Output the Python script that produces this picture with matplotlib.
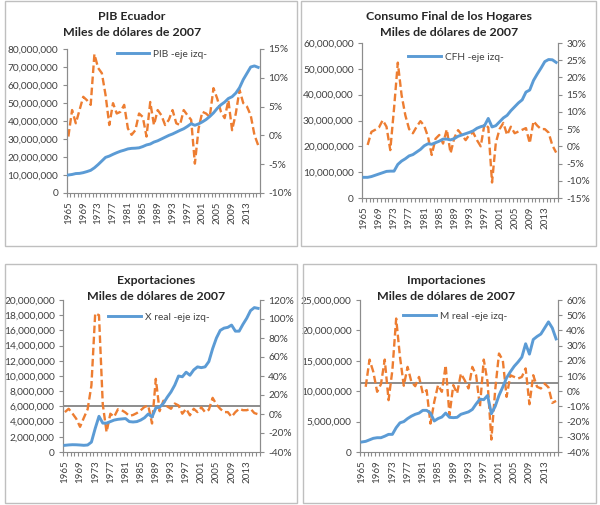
import matplotlib
matplotlib.use('Agg')
import matplotlib.pyplot as plt
from matplotlib.ticker import FuncFormatter, FixedLocator, MultipleLocator
from matplotlib.patches import Rectangle
import numpy as np

plt.rcParams['font.family'] = ['Lato', 'DejaVu Sans']

years = list(range(1965, 2017))

# Levels in millions of (thousand) dollars of 2007
pib_level = [10.0, 10.3, 10.8, 10.9, 11.3, 11.9, 12.6, 14.0, 15.8, 17.8,
             19.8, 20.5, 21.5, 22.4, 23.2, 23.8, 24.5, 24.8, 24.9, 25.1,
             25.8, 26.7, 27.2, 28.3, 29.0, 30.0, 31.0, 32.0, 32.8, 33.8,
             34.8, 35.7, 37.0, 38.5, 37.6, 38.4, 39.5, 40.8, 42.5, 44.5,
             47.0, 49.0, 50.5, 52.5, 53.5, 55.5, 58.5, 63.0, 66.5, 70.0,
             70.6, 69.8]
pib_growth = [-0.2, 4.4, 2.1, 4.4, 6.7, 6.1, 5.3, 14.1, 11.7, 10.8,
              7.0, 1.8, 5.6, 3.8, 4.1, 5.3, 1.2, 0.1, 0.9, 3.8,
              3.2, -0.2, 5.8, 1.8, 4.4, 3.5, 1.8, 2.7, 4.4, 2.1,
              1.8, 4.4, 3.5, 2.7, -4.9, 1.2, 4.1, 3.8, 3.2, 8.2,
              6.4, 4.1, 3.0, 6.1, 0.9, 3.8, 7.9, 5.6, 5.0, 3.5,
              0.1, -1.7]

cfh_level = [8.0, 8.0, 8.3, 8.8, 9.3, 9.8, 10.3, 10.4, 10.4, 13.0,
             14.3, 15.2, 16.3, 16.8, 17.8, 18.8, 20.2, 21.0, 20.8, 21.4,
             22.0, 22.8, 22.8, 22.5, 23.0, 23.9, 24.4, 24.9, 25.4, 26.0,
             27.0, 27.6, 28.0, 30.8, 27.5, 28.0, 29.5, 31.0, 32.0, 33.8,
             35.3, 36.8, 38.0, 41.0, 41.8, 45.5, 48.0, 50.3, 52.8, 53.6,
             53.5, 52.5]
cfh_growth = [np.nan, 0.4, 4.2, 4.8, 5.5, 7.6, 5.7, -1.1, 11.0, 24.3,
              14.9, 9.0, 5.0, 3.8, 5.7, 7.3, 6.0, 2.8, -2.5, 2.2,
              3.3, 0.8, 4.9, -2.0, 2.5, 4.7, 3.3, 1.8, 3.4, 4.0,
              1.8, 0.0, 6.5, 5.5, -10.5, 1.0, 5.0, 6.8, 3.3, 5.7,
              3.8, 4.3, 4.8, 5.3, 0.9, 7.3, 6.0, 5.0, 5.0, 4.0,
              0.3, -1.8]

x_level = [0.88, 0.93, 0.96, 0.95, 0.92, 0.88, 0.92, 1.3, 3.1, 4.7,
           3.8, 3.8, 4.0, 4.2, 4.3, 4.35, 4.4, 4.0, 3.95, 4.0,
           4.2, 4.5, 5.0, 4.6, 5.8, 5.9, 6.4, 7.2, 7.9, 8.8,
           10.0, 9.9, 10.5, 10.1, 10.8, 11.2, 11.1, 11.2, 11.9, 13.6,
           15.0, 16.0, 16.3, 16.4, 16.7, 15.9, 15.9, 16.8, 17.6, 18.6,
           19.0, 18.9]
x_growth = [2.0, 5.5, 0.5, -5.0, -13.5, -4.0, 5.0, 30.0, 106.0, 104.0,
            10.0, -19.0, 0.3, -3.0, 5.0, 4.0, 1.5, -2.0, -1.0, 1.0,
            3.9, 7.4, 9.0, -10.0, 37.0, 3.0, 14.0, 8.0, 5.5, 11.0,
            9.0, 0.3, 5.5, -1.4, 5.5, 2.0, 7.0, 2.0, 4.5, 17.0,
            10.0, 5.5, 2.0, 2.0, -3.0, 2.0, 5.5, 4.0, 4.0, 5.5,
            1.0, -0.3]
x_ref = 8.0

m_level = [1.65, 1.75, 2.0, 2.25, 2.35, 2.35, 2.6, 2.9, 2.9, 4.0,
           4.8, 5.0, 5.5, 5.9, 6.2, 6.4, 6.85, 6.85, 6.4, 5.1,
           5.5, 5.75, 6.4, 5.7, 5.65, 5.7, 6.2, 6.4, 6.6, 7.0,
           7.9, 8.7, 8.6, 9.3, 6.3, 7.5, 9.3, 10.7, 12.2, 13.2,
           14.1, 14.8, 15.6, 17.8, 16.1, 18.5, 19.0, 19.4, 20.4, 21.4,
           20.4, 18.6]
m_growth = [np.nan, 2.9, 20.8, 12.7, -0.4, 4.6, 20.8, -5.9, 13.8, 47.8,
            22.6, 3.6, 16.0, 6.1, 3.3, 9.4, -1.5, 0.7, -21.3, -7.0,
            4.0, -0.4, 17.1, -15.8, 4.0, -1.5, 11.6, 7.2, 1.8, 16.0,
            10.5, -10.3, 20.8, 6.1, -31.8, 0.7, 24.8, 20.4, -3.7, 10.5,
            9.4, 8.3, 9.4, 15.0, -8.6, 10.5, 2.9, 1.8, 5.0, 2.5,
            -7.7, -6.4]
m_ref = 5.5

titles = ["PIB Ecuador", "Consumo Final de los Hogares", "Exportaciones", "Importaciones"]
subtitle = "Miles de dólares de 2007"
legend_labels = ["PIB -eje izq-", "CFH -eje izq-", "X real -eje izq-", "M real -eje izq-"]

BLUE = '#5B9BD5'
ORANGE = '#ED7D31'
REF = '#8C8C8C'
AXC = '#8C8C8C'
TXT = '#404040'

W, H = 600, 505
fig = plt.figure(figsize=(W / 100, H / 100), dpi=100)


def fx(x):
    return x / W


def fy(y):
    return 1 - y / H


def border(x0, y0, x1, y1):
    fig.patches.append(Rectangle((fx(x0), fy(y1)), fx(x1) - fx(x0), fy(y0) - fy(y1),
                                 transform=fig.transFigure, fill=False,
                                 edgecolor='#BFBFBF', linewidth=1.0))


def panel(box, level, growth, lmax, lstep, rmin, rmax, rstep, title, leg,
          tcen, lcen, ref=None):
    x0, y0, x1, y1 = box
    ax = fig.add_axes([fx(x0), fy(y1), fx(x1) - fx(x0), fy(y0) - fy(y1)])
    ax2 = ax.twinx()
    idx = np.arange(len(years))
    lvl = np.array(level) * 1e6
    line, = ax.plot(idx, lvl, color=BLUE, lw=2.1, zorder=3, label=leg)
    if ref is not None:
        ax2.axhline(ref, color=REF, lw=1.4, zorder=1)
    ax2.plot(idx, growth, color=ORANGE, lw=1.7, linestyle=(0, (3.2, 1.5)), zorder=2)
    ax.set_zorder(ax2.get_zorder() + 1)
    ax.patch.set_visible(False)

    ax.set_xlim(-0.5, len(years) - 0.5)
    ax.set_ylim(0, lmax)
    ax.yaxis.set_major_locator(MultipleLocator(lstep))
    ax.yaxis.set_major_formatter(FuncFormatter(lambda v, p: f"{v:,.0f}"))
    ax2.set_ylim(rmin, rmax)
    ax2.yaxis.set_major_locator(MultipleLocator(rstep))
    ax2.yaxis.set_major_formatter(FuncFormatter(lambda v, p: f"{v:.0f}%"))

    lab_idx = list(range(0, len(years), 4))
    ax.xaxis.set_major_locator(FixedLocator(lab_idx))
    ax.set_xticklabels([str(years[i]) for i in lab_idx], rotation=90)
    ax.xaxis.set_minor_locator(FixedLocator(np.arange(-0.5, len(years), 1.0)))
    ax.tick_params(axis='x', which='major', length=0, pad=6, labelsize=7, colors=TXT)
    ax.tick_params(axis='x', which='minor', length=3, color=AXC, width=0.8)
    ax.tick_params(axis='y', length=3, color=AXC, width=0.8, labelsize=7.3,
                   labelcolor=TXT, pad=3)
    ax2.tick_params(axis='y', length=3, color=AXC, width=0.8, labelsize=7.3,
                    labelcolor=TXT, pad=3)
    for a in (ax, ax2):
        a.spines['top'].set_visible(False)
        for s in ('left', 'right', 'bottom'):
            a.spines[s].set_color(AXC)
            a.spines[s].set_linewidth(0.8)
    ax2.spines['bottom'].set_visible(False)

    fig.text(fx(tcen[0]), fy(tcen[1]), title, ha='center', va='center',
             fontsize=8.9, fontweight='bold', color='#262626')
    fig.text(fx(tcen[0]), fy(tcen[1] + 16), subtitle, ha='center', va='center',
             fontsize=8.9, fontweight='bold', color='#262626')
    ax.legend(handles=[line], loc='center', bbox_to_anchor=(fx(lcen[0]), fy(lcen[1])),
              bbox_transform=fig.transFigure, frameon=False, fontsize=7.3,
              handlelength=3.2, handletextpad=0.4, borderpad=0, labelcolor=TXT)


border(4.5, 1, 296.5, 245.5)
border(301.5, 1, 595.5, 246)
border(4.5, 264, 297, 503)
border(302.5, 264, 595.5, 503)

panel((66.5, 49, 260, 193), pib_level, pib_growth, 80e6, 10e6, -10, 15, 5,
      titles[0], legend_labels[0], (132, 16), (162, 54))
panel((362, 43, 558, 198), cfh_level, cfh_growth, 60e6, 10e6, -15, 30, 5,
      titles[1], legend_labels[1], (449, 16), (456, 57))
panel((63, 300, 260, 452), x_level, x_growth, 20e6, 2e6, -40, 120, 20,
      titles[2], legend_labels[2], (156, 280), (159, 317), ref=x_ref)
panel((360, 300, 558, 452), m_level, m_growth, 25e6, 5e6, -40, 60, 10,
      titles[3], legend_labels[3], (446, 280), (455, 316), ref=m_ref)

fig.savefig('out.png', dpi=100)
